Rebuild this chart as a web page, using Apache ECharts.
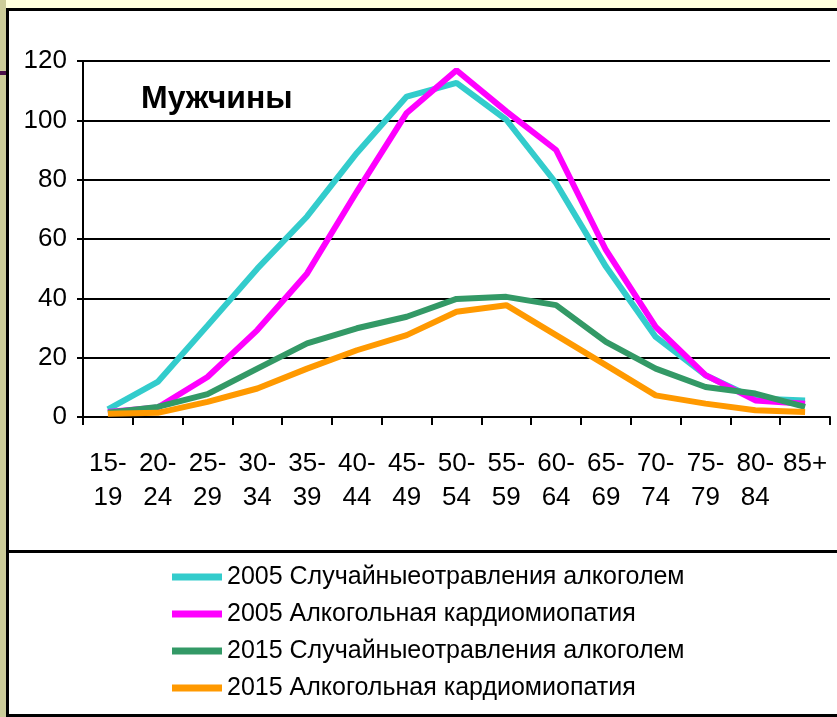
<!DOCTYPE html>
<html><head><meta charset="utf-8">
<script src="https://cdn.jsdelivr.net/npm/echarts@6/dist/echarts.min.js"></script>
<style>html,body{margin:0;padding:0;background:#fff}#c{width:837px;height:717px}</style>
</head><body><div id="c"></div>
<script>
const categories = ['15-\n19','20-\n24','25-\n29','30-\n34','35-\n39','40-\n44','45-\n49','50-\n54','55-\n59','60-\n64','65-\n69','70-\n74','75-\n79','80-\n84','85+'];
const seriesNames = ['2005 Случайныеотравления алкоголем','2005 Алкогольная кардиомиопатия','2015 Случайныеотравления алкоголем','2015 Алкогольная кардиомиопатия'];
const cyan2005 = [2.6, 11.8, 30.8, 50, 67.6, 89, 108, 112.6, 100.2, 78.8, 50.7, 27, 14.1, 6.2, 5.6];
const magenta2005 = [1.7, 3.2, 13.5, 29.3, 48.4, 76, 102.5, 116.9, 103, 90, 56.3, 30.4, 14.1, 5.6, 4.5];
const green2015 = [1.4, 3.4, 7.7, 16.3, 24.8, 29.9, 33.8, 39.8, 40.5, 37.7, 25.3, 16.3, 10.1, 7.9, 3.4];
const orange2015 = [1.1, 1.4, 5.1, 9.6, 16.3, 22.5, 27.6, 35.5, 37.7, 27.6, 17.5, 7.3, 4.5, 2.3, 1.7];
const colors = ['#33CCCC', '#FF00FF', '#339966', '#FF9900'];
const yTicks = [0, 20, 40, 60, 80, 100, 120];
const titleText = 'Мужчины';

const FONT = '"Liberation Sans Narrow", "Arial Narrow", "Liberation Sans", Arial, sans-serif';
const chart = echarts.init(document.getElementById('c'));
const data = [cyan2005, magenta2005, green2015, orange2015];
chart.setOption({
  animation: false,
  backgroundColor: '#ffffff',
  grid: { left: 83, right: 7, top: 61, bottom: 300, containLabel: false },
  title: { text: titleText, left: 136, top: 78, textStyle: { fontFamily: FONT, fontSize: 32, fontWeight: 'bold', color: '#000' } },
  legend: {
    orient: 'vertical', left: 172, top: 562, padding: 0,
    itemWidth: 50, itemHeight: 7, itemGap: 7, icon: 'rect',
    textStyle: { fontFamily: FONT, fontSize: 25, color: '#000', lineHeight: 30 },
    data: seriesNames
  },
  xAxis: {
    type: 'category', data: categories, boundaryGap: true,
    axisLine: { lineStyle: { color: '#000', width: 2 } },
    axisTick: { show: true, length: 8, lineStyle: { color: '#000', width: 2 }, alignWithLabel: false },
    axisLabel: { fontFamily: FONT, fontSize: 26, color: '#000', lineHeight: 34, margin: 30, interval: 0 }
  },
  yAxis: {
    type: 'value', min: 0, max: 120, interval: 20,
    axisLine: { show: true, lineStyle: { color: '#000', width: 2 } },
    axisTick: { show: true, length: 6, lineStyle: { color: '#000', width: 2 } },
    axisLabel: { fontFamily: FONT, fontSize: 26, color: '#000', margin: 16,
      formatter: v => yTicks.includes(v) ? String(v) : '' },
    splitLine: { show: true, lineStyle: { color: '#000', width: 2 } }
  },
  series: seriesNames.map((n, i) => ({
    name: n, type: 'line', data: data[i], showSymbol: false, symbol: 'none',
    lineStyle: { color: colors[i], width: 6 }, itemStyle: { color: colors[i] }, z: 2 + i
  })),
  graphic: [
    { type: 'rect', shape: { x: 0, y: 0, width: 837, height: 8 }, style: { fill: '#FFFFDD' }, silent: true },
    { type: 'rect', shape: { x: 0, y: 0, width: 6, height: 717 }, style: { fill: '#CCCC99' }, silent: true },
    { type: 'rect', shape: { x: 0, y: 71, width: 6, height: 4 }, style: { fill: '#4A0F4A' }, silent: true },
    { type: 'rect', shape: { x: 6, y: 8, width: 831, height: 3 }, style: { fill: '#000' }, silent: true },
    { type: 'rect', shape: { x: 6, y: 8, width: 3, height: 709 }, style: { fill: '#000' }, silent: true },
    { type: 'rect', shape: { x: 6, y: 714, width: 831, height: 3 }, style: { fill: '#000' }, silent: true },
    { type: 'rect', shape: { x: 6, y: 550, width: 831, height: 3 }, style: { fill: '#000' }, silent: true }
  ]
});
</script></body></html>
